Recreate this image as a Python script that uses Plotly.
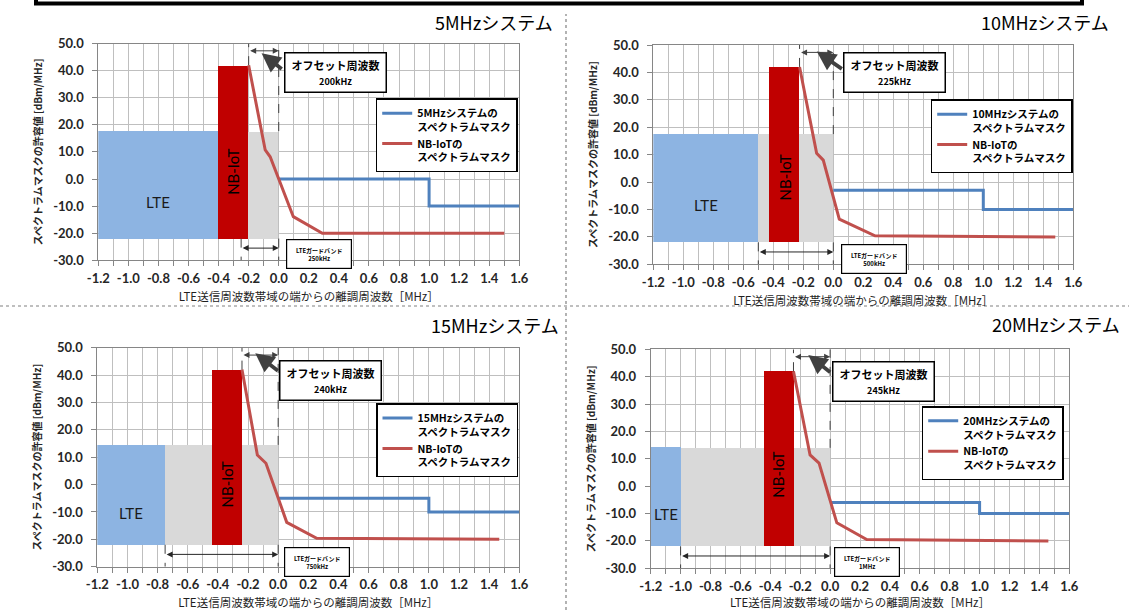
import plotly.graph_objects as go

# ---------------- data ----------------
titles = ["5MHzシステム", "10MHzシステム", "15MHzシステム", "20MHzシステム"]
lte_legend = ["5MHzシステムの<br>スペクトラムマスク", "10MHzシステムの<br>スペクトラムマスク",
              "15MHzシステムの<br>スペクトラムマスク", "20MHzシステムの<br>スペクトラムマスク"]
nb_legend = "NB-IoTの<br>スペクトラムマスク"
offset_labels = ["200kHz", "225kHz", "240kHz", "245kHz"]
guard_labels = ["250kHz", "500kHz", "750kHz", "1MHz"]

x_min = -1.2
lte_edge = [-0.4, -0.5, -0.75, -1.0]          # right edge of LTE block [MHz]
lte_top = [18.0, 17.5, 14.7, 14.3]            # LTE block level [dBm/MHz]
gray_top = [17.7, 17.5, 14.5, 14.0]           # guard band area level
block_bottom = -22.0
nb_left = [-0.4, -0.425, -0.44, -0.445]
nb_right = [-0.2, -0.225, -0.24, -0.245]
nb_top = 42.0
guard_start = [-0.25, -0.5, -0.75, -1.0]

lte_mask_x = [0.0, 1.0, 1.0, 1.6]
lte_mask_y = [[0, 0, -10, -10], [-3, -3, -10, -10], [-5, -5, -10, -10], [-6, -6, -10, -10]]

nb_mask_x = [[-0.2, -0.09, -0.057, 0.097, 0.29, 1.5],
             [-0.225, -0.111, -0.067, 0.04, 0.278, 1.48],
             [-0.24, -0.138, -0.081, 0.057, 0.256, 1.467],
             [-0.245, -0.134, -0.074, 0.045, 0.245, 1.46]]
nb_mask_y = [[42, 10.7, 8.2, -13.9, -20, -20],
             [42, 10.5, 8.0, -13.5, -19.6, -20],
             [42, 10.8, 7.8, -13.8, -19.6, -20],
             [42, 11.4, 8.4, -13.4, -19.5, -20]]

x_tick_vals = [-1.2, -1.0, -0.8, -0.6, -0.4, -0.2, 0.0, 0.2, 0.4, 0.6, 0.8, 1.0, 1.2, 1.4, 1.6]
x_tick_text = ["-1.2", "-1.0", "-0.8", "-0.6", "-0.4", "-0.2", "0.0", "0.2", "0.4", "0.6",
               "0.8", "1.0", "1.2", "1.4", "1.6"]
y_tick_vals = [50, 40, 30, 20, 10, 0, -10, -20, -30]
y_tick_text = ["50.0", "40.0", "30.0", "20.0", "10.0", "0.0", "-10.0", "-20.0", "-30.0"]

x_title = "LTE送信周波数帯域の端からの離調周波数［MHz］"
y_title = "スペクトラムマスクの許容値 [dBm/MHz]"

# ---------------- style / layout ----------------
W, H = 1129, 610
CJK = "Noto Sans CJK JP"
NUM = "Lato"
LTE_C = "#8DB4E2"
GRAY_C = "#D9D9D9"
NB_C = "#C00000"
BLUE_L = "#4F81BD"
RED_L = "#C0504D"
GRID = "#BFBFBF"

domains = [([98.3, 519.3], [43.5, 260.3]),
           ([653.3, 1073.3], [45.0, 264.3]),
           ([97.3, 519.3], [347.7, 566.7]),
           ([650.7, 1069.3], [349.3, 568.3])]
title_pos = [(555, 22), (1111, 22), (561, 325), (1122, 324)]
legend_pos = [(375.7, 98.3), (930.7, 99.3), (376, 403.3), (921.7, 406)]
offset_box = [(0.375, 39.4), (0.41, 40.0), (0.345, 38.1), (0.355, 38.4)]
arrow_head = [(-0.114, 46.4), (-0.11, 47.6), (-0.152, 48.0), (-0.146, 47.9)]
arrow_tail = [(0.03, 40.2), (0.067, 40.9), (0.008, 41.2), (0.011, 41.2)]
guard_box = [(0.265, -27.7), (0.273, -28.2), (0.261, -28.2), (0.25, -27.6)]
lte_label_y = [-8.5, -8.5, -10.2, -10.0]
nb_label_y = [2.5, 1.5, 0.0, 4.0]

fig = go.Figure()
layout = dict(
    width=W, height=H, margin=dict(l=0, r=0, t=0, b=0, pad=0, autoexpand=False),
    paper_bgcolor="white", plot_bgcolor="white",
    barmode="overlay", bargap=0, showlegend=True,
    font=dict(family=CJK, color="black"),
)
annotations = []
shapes = []

for i in range(4):
    sfx = "" if i == 0 else str(i + 1)
    xa, ya, lg = "x" + sfx, "y" + sfx, "legend" + sfx
    (px0, px1), (py0, py1) = domains[i]
    # blocks
    fig.add_trace(go.Bar(x=[(x_min + lte_edge[i]) / 2], y=[lte_top[i] - block_bottom], base=[block_bottom],
                         width=[lte_edge[i] - x_min], marker=dict(color=LTE_C, line=dict(width=0)),
                         xaxis=xa, yaxis=ya, showlegend=False, hoverinfo="skip"))
    fig.add_trace(go.Bar(x=[lte_edge[i] / 2], y=[gray_top[i] - block_bottom], base=[block_bottom],
                         width=[-lte_edge[i]], marker=dict(color=GRAY_C, line=dict(width=0)),
                         xaxis=xa, yaxis=ya, showlegend=False, hoverinfo="skip"))
    fig.add_trace(go.Bar(x=[(nb_left[i] + nb_right[i]) / 2], y=[nb_top - block_bottom], base=[block_bottom],
                         width=[nb_right[i] - nb_left[i]], marker=dict(color=NB_C, line=dict(width=0)),
                         xaxis=xa, yaxis=ya, showlegend=False, hoverinfo="skip"))
    # masks
    fig.add_trace(go.Scatter(x=lte_mask_x, y=lte_mask_y[i], mode="lines", name=lte_legend[i],
                             line=dict(color=BLUE_L, width=3), xaxis=xa, yaxis=ya, legend=lg,
                             hoverinfo="skip"))
    fig.add_trace(go.Scatter(x=nb_mask_x[i], y=nb_mask_y[i], mode="lines", name=nb_legend,
                             line=dict(color=RED_L, width=3), xaxis=xa, yaxis=ya, legend=lg,
                             hoverinfo="skip"))

    layout["xaxis" + sfx] = dict(
        domain=[px0 / W, px1 / W], anchor=ya, range=[-1.2, 1.6], automargin=False,
        tickmode="array", tickvals=x_tick_vals, ticktext=x_tick_text,
        tickfont=dict(family=NUM, size=13, weight="bold", color="#262626"),
        showgrid=True, gridcolor=GRID, gridwidth=1, zeroline=False,
        ticks="outside", ticklen=5, tickcolor="#868686", ticklabelstandoff=1,
        minor=dict(dtick=0.1, tick0=0, showgrid=True, gridcolor=GRID, ticks="outside",
                   ticklen=5, tickcolor="#868686"),
        showline=True, linecolor="#868686", linewidth=1, mirror=True,
        title=dict(text=x_title, font=dict(family=CJK, size=11.5, color="#1f1f1f"), standoff=8),
    )
    layout["yaxis" + sfx] = dict(
        domain=[1 - py1 / H, 1 - py0 / H], anchor=xa, range=[-30, 50], automargin=False,
        tickmode="array", tickvals=y_tick_vals, ticktext=y_tick_text,
        tickfont=dict(family=NUM, size=13, weight="bold", color="#262626"),
        showgrid=True, gridcolor=GRID, gridwidth=1, zeroline=False,
        ticks="outside", ticklen=5, tickcolor="#868686", ticklabelstandoff=6,
        showline=True, linecolor="#868686", linewidth=1, mirror=True,
        title=dict(text=y_title, font=dict(family=CJK, size=10, weight="bold", color="#262626"),
                   standoff=8),
    )
    lx, ly = legend_pos[i]
    layout[lg] = dict(
        x=lx / W, y=1 - ly / H, xanchor="left", yanchor="top", xref="paper", yref="paper",
        bgcolor="white", bordercolor="black", borderwidth=1.5,
        font=dict(family=CJK, size=10.5, weight="bold", color="black"),
        itemwidth=30, valign="top", tracegroupgap=2, traceorder="normal",
    )

    # panel title
    tx, ty = title_pos[i]
    annotations.append(dict(text=titles[i], xref="paper", yref="paper", x=tx / W, y=1 - ty / H,
                            xanchor="right", yanchor="middle", showarrow=False,
                            font=dict(family=CJK, size=18, color="black")))
    # dashed guides
    dash = dict(color="#404040", width=1, dash="dash")
    shapes.append(dict(type="line", xref=xa, yref=ya, x0=nb_right[i], x1=nb_right[i], y0=nb_top, y1=50, line=dash))
    shapes.append(dict(type="line", xref=xa, yref=ya, x0=0, x1=0, y0=gray_top[i], y1=50, line=dash))
    shapes.append(dict(type="line", xref=xa, yref=ya, x0=guard_start[i], x1=guard_start[i], y0=block_bottom, y1=-30, line=dash))
    shapes.append(dict(type="line", xref=xa, yref=ya, x0=0, x1=0, y0=block_bottom, y1=-30, line=dash))
    # offset double arrow
    annotations.append(dict(xref=xa, yref=ya, axref=xa, ayref=ya, x=0, y=47.3, ax=nb_right[i], ay=47.3,
                            text="", showarrow=True, arrowside="end+start", arrowhead=2, arrowsize=1.2,
                            arrowwidth=1, arrowcolor="#404040", standoff=0, startstandoff=0))
    # big pointer arrow
    hx, hy = arrow_head[i]
    tx2, ty2 = arrow_tail[i]
    annotations.append(dict(xref=xa, yref=ya, axref=xa, ayref=ya, x=hx, y=hy, ax=tx2, ay=ty2,
                            text="", showarrow=True, arrowhead=2, arrowsize=1, arrowwidth=3.8,
                            arrowcolor="#404040"))
    # offset box
    bx, by = offset_box[i]
    annotations.append(dict(xref=xa, yref=ya, x=bx, y=by, showarrow=False,
                            text="<b>オフセット周波数</b><br><span style='font-size:9px'><b>" + offset_labels[i] + "</b></span>",
                            font=dict(family=CJK, size=11, color="black"), align="center",
                            bgcolor="white", bordercolor="black", borderwidth=1.5, borderpad=3,
                            width=94, height=32))
    # guard band double arrow
    annotations.append(dict(xref=xa, yref=ya, axref=xa, ayref=ya, x=0, y=-25.5, ax=guard_start[i], ay=-25.5,
                            text="", showarrow=True, arrowside="end+start", arrowhead=2, arrowsize=1.2,
                            arrowwidth=1, arrowcolor="#262626", standoff=0, startstandoff=0))
    gx, gy = guard_box[i]
    annotations.append(dict(xref=xa, yref=ya, x=gx, y=gy, showarrow=False,
                            text="<b>LTEガードバンド</b><br><b>" + guard_labels[i] + "</b>",
                            font=dict(family=CJK, size=6, color="black"), align="center",
                            bgcolor="white", bordercolor="black", borderwidth=1.2, borderpad=2,
                            width=60, height=24))
    # block labels
    annotations.append(dict(xref=xa, yref=ya, x=(x_min + lte_edge[i]) / 2, y=lte_label_y[i], text="LTE",
                            showarrow=False, font=dict(family=NUM, size=15, color="#1a1a1a")))
    annotations.append(dict(xref=xa, yref=ya, x=(nb_left[i] + nb_right[i]) / 2, y=nb_label_y[i], text="NB-IoT",
                            textangle=-90, showarrow=False, font=dict(family=NUM, size=15, color="black")))

# separators and top frame
shapes.append(dict(type="line", xref="paper", yref="paper", x0=566 / W, x1=566 / W, y0=0, y1=1 - 14 / H,
                   line=dict(color="#808080", width=1.2, dash="dot")))
shapes.append(dict(type="line", xref="paper", yref="paper", x0=0, x1=1, y0=1 - 306 / H, y1=1 - 306 / H,
                   line=dict(color="#808080", width=1.2, dash="dot")))
shapes.append(dict(type="rect", xref="paper", yref="paper", x0=36 / W, x1=1082 / W, y0=1 - 3.5 / H, y1=1.05,
                   line=dict(color="black", width=4), fillcolor="rgba(0,0,0,0)"))

layout["annotations"] = annotations
layout["shapes"] = shapes
fig.update_layout(**layout)
fig.write_html("out.html", config={"displayModeBar": False},
               post_script="document.documentElement.style.margin='0';document.body.style.margin='0';"
                           "document.body.style.overflow='hidden';")
